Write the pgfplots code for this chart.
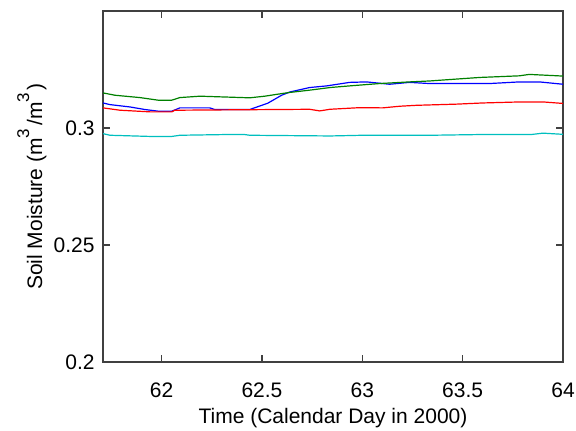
\documentclass[border=0pt]{standalone}
\usepackage{pgfplots}
\pgfplotsset{compat=1.18}
\usepackage{fontspec}
\setmainfont{Liberation Sans}
\definecolor{mblue}{rgb}{0,0,1}
\definecolor{mgreen}{rgb}{0,0.5,0}
\definecolor{mred}{rgb}{1,0,0}
\definecolor{mcyan}{rgb}{0,0.75,0.75}
% raised exponent in the label
\newcommand{\expo}[1]{\raisebox{6.5pt}{\fontsize{8.5pt}{8.5pt}\selectfont #1}\hspace{1.5pt}}
\begin{document}
\fontsize{10.5pt}{12.6pt}\selectfont
\begin{tikzpicture}
\begin{axis}[
  name=ax,
  scale only axis,
  width=230pt, height=175.5pt,
  xmin=61.708, xmax=64,
  ymin=0.2, ymax=0.35,
  xtick={62,62.5,63,63.5,64},
  ytick={0.2,0.25,0.3},
  xticklabels={62,62.5,63,63.5,64},
  yticklabels={0.2,0.25,0.3},
  tick align=inside,
  xtick pos=both, ytick pos=both,
  major tick length=3.5pt,
  axis line style={black!75, line width=0.6pt},
  every tick/.style={black!75, line width=0.6pt},
  xticklabel style={anchor=base, yshift=-17.5pt, inner sep=0pt},
  yticklabel style={anchor=east, xshift=-4pt, inner sep=0pt},
  xlabel={Time (Calendar Day in 2000)},
  ylabel={Soil Moisture (m\expo{3}/m\expo{3})},
  xlabel style={at={(axis description cs:0.5,-0.1738)}, anchor=base},
  ylabel style={at={(axis description cs:-0.1326,0.5)}, anchor=base},
  every axis plot/.append style={line width=0.6pt, mark=none},
]
% blue series
\addplot[mblue] coordinates {
(61.708,0.3107) (61.743,0.3100) (61.842,0.3090) (61.917,0.3079) (61.982,0.3072)
(62.051,0.3072) (62.091,0.3086) (62.240,0.3086) (62.265,0.3079) (62.439,0.3079)
(62.529,0.3106) (62.598,0.3140) (62.639,0.3154) (62.738,0.3173) (62.823,0.3180)
(62.937,0.3195) (63.021,0.3197) (63.136,0.3187) (63.235,0.3195) (63.335,0.3190)
(63.633,0.3190) (63.783,0.3197) (63.882,0.3197) (64.000,0.3187)
};
% green series
\addplot[mgreen] coordinates {
(61.708,0.3150) (61.768,0.3140) (61.892,0.3130) (61.982,0.3119) (62.051,0.3119)
(62.091,0.3130) (62.191,0.3136) (62.439,0.3129) (62.514,0.3136) (62.598,0.3147)
(62.639,0.3152) (62.740,0.3162) (62.840,0.3173) (62.937,0.3180) (63.086,0.3190)
(63.235,0.3197) (63.335,0.3201) (63.434,0.3207) (63.584,0.3216) (63.783,0.3223)
(63.832,0.3229) (64.000,0.3222)
};
% red series
\addplot[mred] coordinates {
(61.708,0.3086) (61.793,0.3076) (61.942,0.3069) (62.051,0.3069) (62.066,0.3076)
(62.738,0.3080) (62.788,0.3073) (62.838,0.3080) (62.987,0.3087) (63.101,0.3086)
(63.186,0.3093) (63.270,0.3097) (63.469,0.3102) (63.599,0.3107) (63.768,0.3111)
(63.907,0.3111) (64.000,0.3105)
};
% cyan series
\addplot[mcyan] coordinates {
(61.708,0.2976) (61.743,0.2969) (61.942,0.2964) (62.051,0.2964) (62.091,0.2969)
(62.315,0.2972) (62.415,0.2972) (62.439,0.2969) (62.840,0.2966) (63.000,0.2969)
(63.340,0.2969) (63.580,0.2972) (63.840,0.2972) (63.900,0.2978) (64.000,0.2973)
};
\end{axis}
\pgfresetboundingbox
\path[use as bounding box] ([xshift=-51.5pt,yshift=-34pt]ax.south west)
  rectangle ([xshift=6.5pt,yshift=5.5pt]ax.north east);
\end{tikzpicture}
\end{document}
